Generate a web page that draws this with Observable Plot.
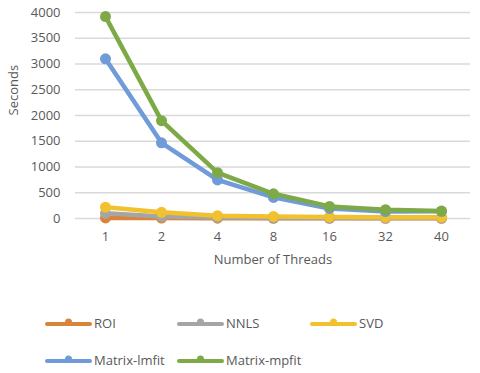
<!DOCTYPE html>
<html>
<head>
<meta charset="utf-8">
<script src="https://cdn.jsdelivr.net/npm/d3@7"></script>
<script src="https://cdn.jsdelivr.net/npm/@observablehq/plot@0.6"></script>
<style>
body { margin: 0; background: #fff; font-family: "Open Sans", "Liberation Sans", sans-serif; }
#wrap { position: relative; width: 480px; height: 373px; }
#legend { position: absolute; left: 0; top: 290px; width: 480px; height: 83px; }
.item { position: absolute; display: flex; align-items: center; font-size: 13px; color: #595959; }
.item svg { margin-right: 2px; }
</style>
</head>
<body>
<div id="wrap"><div id="chart"></div><div id="legend"></div></div>
<script>
const threads = ["1", "2", "4", "8", "16", "32", "40"];
const seriesNames = ["ROI", "NNLS", "SVD", "Matrix-lmfit", "Matrix-mpfit"];
const roi = [12, 8, 6, 5, 4, 4, 4];
const nnls = [100, 40, 20, 12, 10, 8, 8];
const svd = [220, 120, 55, 40, 30, 25, 25];
const lmfit = [3100, 1470, 750, 410, 195, 135, 140];
const mpfit = [3920, 1900, 890, 480, 235, 170, 145];
const colors = ["#D9843B", "#A5A5A5", "#F2C12E", "#6F9BD8", "#7DAA47"];
const yTicks = [0, 500, 1000, 1500, 2000, 2500, 3000, 3500, 4000];

const allValues = [roi, nnls, svd, lmfit, mpfit];
const data = [];
seriesNames.forEach((s, i) => threads.forEach((t, j) => data.push({series: s, threads: t, value: allValues[i][j]})));

const chart = Plot.plot({
  width: 480,
  height: 290,
  marginLeft: 75,
  marginRight: 10,
  marginTop: 12,
  marginBottom: 72,
  style: {fontFamily: "'Open Sans', 'Liberation Sans', sans-serif", fontSize: "13px", color: "#595959"},
  x: {type: "point", domain: threads, padding: 0.5, label: "Number of Threads", labelAnchor: "center", labelOffset: 45, tickSize: 0, tickPadding: 13},
  y: {domain: [0, 4000], ticks: yTicks, tickFormat: d3.format("d"), label: null, tickSize: 0, tickPadding: 15},
  color: {domain: seriesNames, range: colors},
  marks: [
    Plot.gridY(yTicks, {stroke: "#D9D9D9", strokeOpacity: 1, strokeWidth: 1.5}),
    Plot.line(data, {x: "threads", y: "value", z: "series", stroke: "series", strokeWidth: 4.5, strokeLinejoin: "round", strokeLinecap: "round"}),
    Plot.dot(data, {x: "threads", y: "value", fill: "series", r: 5.5}),
    Plot.text(["Seconds"], {frameAnchor: "left", dx: -62, rotate: -90, fontSize: 13, fill: "#595959"})
  ]
});
document.getElementById("chart").appendChild(chart);

const legend = document.getElementById("legend");
const pos = [[45, 33], [177, 33], [310, 33], [45, 70], [177, 70]];
seriesNames.forEach((s, i) => {
  const d = document.createElement("div");
  d.className = "item";
  d.style.left = pos[i][0] + "px";
  d.style.top = (pos[i][1] - 10) + "px";
  d.style.height = "20px";
  d.innerHTML = `<svg width="47" height="20"><line x1="2" y1="11" x2="45" y2="11" stroke="${colors[i]}" stroke-width="4" stroke-linecap="round"/><circle cx="23.5" cy="9" r="3.5" fill="${colors[i]}"/></svg><span>${s}</span>`;
  legend.appendChild(d);
});
</script>
</body>
</html>
